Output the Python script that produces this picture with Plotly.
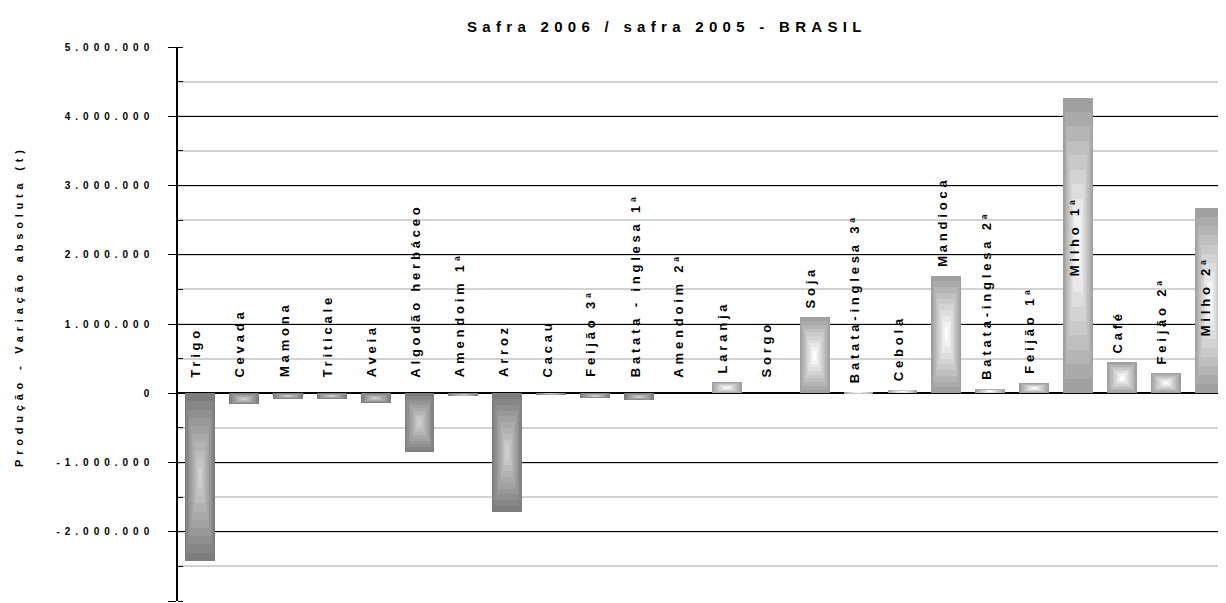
import plotly.graph_objects as go

# ---- data ----
categories = ["Trigo", "Cevada", "Mamona", "Triticale", "Aveia", "Algodão herbáceo",
              "Amendoim 1ª", "Arroz", "Cacau", "Feijão 3ª", "Batata - inglesa 1ª",
              "Amendoim 2ª", "Laranja", "Sorgo", "Soja", "Batata-inglesa 3ª", "Cebola",
              "Mandioca", "Batata-inglesa 2ª", "Feijão 1ª", "Milho 1ª", "Café",
              "Feijão 2ª", "Milho 2ª"]
variation_t = [-2420000, -160000, -80000, -80000, -140000, -855000,
               -40000, -1710000, -15000, -70000, -100000,
               0, 160000, 0, 1095000, 15000, 50000,
               1700000, 60000, 145000, 4270000, 450000,
               290000, 2670000]
tick_values = [-3000000, -2000000, -1000000, 0, 1000000, 2000000, 3000000, 4000000, 5000000]
title_text = "Safra 2006 / safra 2005 - BRASIL"
ytitle_text = "Produção - Variação absoluta (t)"

# labels placed inside the bar for these categories (data units of the label base)
inside_label_y = {"Milho 1ª": 1660000, "Milho 2ª": 790000}

# ---- style ----
BAR_W = 0.68
N_LEVELS = 10
NEG_OUT, NEG_IN = (125, 125, 125), (205, 205, 205)
POS_OUT, POS_IN = (160, 160, 160), (252, 252, 252)

# page has an 8px body margin; geometry below is expressed in screen pixels
OFF = 8
PLOT_L, PLOT_T, PLOT_R, PLOT_B = 178, 47, 1226, 601
FIG_W, FIG_H = 1226 - OFF, 603 - OFF
PW, PH = PLOT_R - PLOT_L, PLOT_B - PLOT_T


def mix(a, b, t):
    return "rgb(%d,%d,%d)" % tuple(round(a[i] + (b[i] - a[i]) * t) for i in range(3))


fig = go.Figure()
for k in range(N_LEVELS):
    t = k / (N_LEVELS - 1)
    s = 1 - 0.88 * t
    bases = [v / 2 - abs(v) / 2 * s for v in variation_t]
    heights = [abs(v) * s for v in variation_t]
    colors = [mix(NEG_OUT, NEG_IN, t) if v < 0 else mix(POS_OUT, POS_IN, t) for v in variation_t]
    fig.add_trace(go.Bar(x=categories, y=heights, base=bases, width=BAR_W * s,
                         marker=dict(color=colors, line=dict(width=0)),
                         hoverinfo="skip", showlegend=False))

# category labels
for c, v in zip(categories, variation_t):
    if c in inside_label_y:
        y, shift = inside_label_y[c], 0
    else:
        y, shift = max(v, 0), (14 if v <= 0 else 7)
    fig.add_annotation(x=c, y=y, xref="x", yref="y", yanchor="bottom", xanchor="center",
                       yshift=shift, xshift=-4, textangle=-90, showarrow=False,
                       text='<span style="letter-spacing:3.8px">%s</span>' % c,
                       font=dict(family="Liberation Sans, Arial", size=13, color="black",
                                 weight="bold"))

tick_text = ['<span style="letter-spacing:5px">%s</span>' % f"{v:,}".replace(",", ".")
             for v in tick_values]

fig.add_annotation(x=(667 - PLOT_L) / PW, y=1 + (PLOT_T - 27) / PH, xref="paper", yref="paper",
                   xanchor="center", yanchor="middle", showarrow=False,
                   text='<span style="letter-spacing:5.3px">%s</span>' % title_text,
                   font=dict(family="Liberation Sans Narrow, Arial Narrow, Liberation Sans",
                             size=15, color="black", weight="bold"))
fig.add_annotation(x=(19 - PLOT_L) / PW, y=(PLOT_B - 306) / PH, xref="paper", yref="paper",
                   xanchor="center", yanchor="middle", showarrow=False, textangle=-90,
                   text='<span style="letter-spacing:4.8px">%s</span>' % ytitle_text,
                   font=dict(family="Liberation Sans, Arial", size=11, color="black",
                             weight="bold"))

fig.update_layout(
    width=FIG_W, height=FIG_H,
    margin=dict(l=PLOT_L - OFF, r=FIG_W - (PLOT_R - OFF), t=PLOT_T - OFF,
                b=FIG_H - (PLOT_B - OFF), pad=0),
    paper_bgcolor="white", plot_bgcolor="white",
    barmode="overlay", bargap=0,
    xaxis=dict(range=[-0.5, 23.37], showticklabels=False, showgrid=False,
               zeroline=False, showline=False, ticks=""),
    yaxis=dict(range=[-3000000, 5000000], tickvals=tick_values, ticktext=tick_text,
               ticks="outside", ticklen=8, tickcolor="black", tickwidth=1,
               ticklabelstandoff=12,
               tickfont=dict(family="Liberation Sans Narrow, Arial Narrow, Liberation Sans",
                             size=10, color="black", weight="bold"),
               showline=True, linecolor="black", linewidth=1.5,
               showgrid=True, gridcolor="black", gridwidth=1,
               zeroline=True, zerolinecolor="black", zerolinewidth=2,
               minor=dict(dtick=500000, tick0=0, showgrid=True, gridcolor="#d2d2d2",
                          gridwidth=1.5, ticks="inside", ticklen=5, tickcolor="black")),
)

fig.write_html("out.html")
